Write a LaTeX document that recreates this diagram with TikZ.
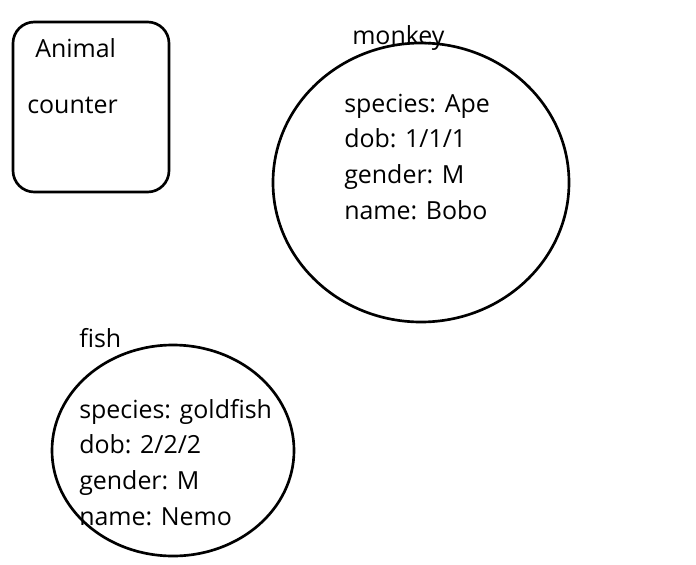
\documentclass[tikz,border=0pt]{standalone}
\usepackage{fontspec}
\setmainfont{Open Sans}
\usetikzlibrary{shapes.geometric}
\begin{document}
\begin{tikzpicture}[x=0.75pt,y=-0.75pt,
  shapeline/.style={draw=black,line width=2pt,inner sep=0pt},
  txt/.style={anchor=base west,inner sep=0pt,font=\fontsize{18.7pt}{22pt}\selectfont}]
\useasboundingbox (0,0) rectangle (696,564);
\node[shapeline,rectangle,rounded corners=16pt,minimum width=156*0.75pt,minimum height=170*0.75pt] (box) at (91,107) {};
\node[shapeline,ellipse,minimum width=296*0.75pt,minimum height=279*0.75pt] (monkeyE) at (421,182.5) {};
\node[shapeline,ellipse,minimum width=242*0.75pt,minimum height=211*0.75pt] (fishE) at (173,450.5) {};
\node[txt] (animal) at (35,57) {Animal};
\node[txt] (counter) at (27,113.5) {counter};
\node[txt] (monkey) at (352,44) {monkey};
\node[txt] (m1) at (344,112) {species: Ape};
\node[txt] (m2) at (344,147.7) {dob: 1/1/1};
\node[txt] (m3) at (344,183.4) {gender: M};
\node[txt] (m4) at (344,219) {name: Bobo};
\node[txt] (fish) at (79,347) {fish};
\node[txt] (f1) at (79,418) {species: goldfish};
\node[txt] (f2) at (79,453.5) {dob: 2/2/2};
\node[txt] (f3) at (79,489) {gender: M};
\node[txt] (f4) at (79,525) {name: Nemo};
\end{tikzpicture}
\end{document}
